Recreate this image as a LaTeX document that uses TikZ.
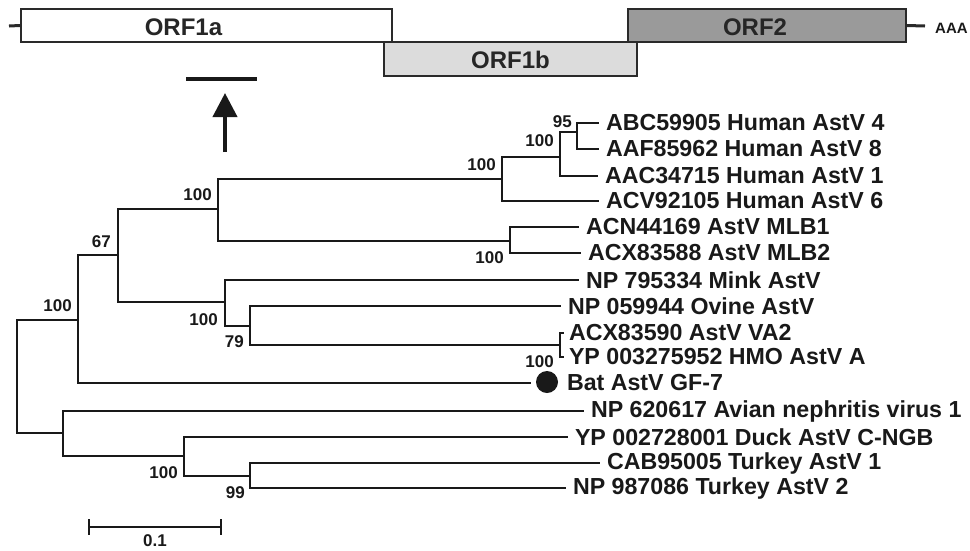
\documentclass[tikz,border=0pt]{standalone}
\usepackage{fontspec}
\setmainfont{Liberation Sans}
\usetikzlibrary{arrows.meta}
\definecolor{boxline}{HTML}{2A2A2A}
\definecolor{orfa}{HTML}{FFFFFF}
\definecolor{orfb}{HTML}{DCDCDC}
\definecolor{orfc}{HTML}{9A9A9A}
\tikzset{
  branch/.style={line width=1.6pt, line cap=rect, black!90},
  leaf/.style={anchor=west, inner xsep=8pt, inner ysep=0pt, outer sep=0pt,
    font=\fontsize{23.2}{26}\selectfont\bfseries, text=black!90},
  boot/.style={anchor=east, inner sep=0pt, font=\fontsize{17}{20}\selectfont\bfseries, text=black!90},
  genebox/.style={draw=boxline, line width=1.8pt, inner sep=0pt},
  genelabel/.style={inner sep=0pt, font=\fontsize{24}{28}\selectfont\bfseries, text=black!85},
  thickline/.style={line width=3pt, boxline},
}
\begin{document}
\begin{tikzpicture}[x=1pt,y=-1pt]
\useasboundingbox (0,0) rectangle (970,550);
% ---------------- genome map ----------------
\coordinate (gl1) at (9,26);
\node[genebox, fill=orfa, minimum width=371pt, minimum height=33pt] (orf1a) at (206.5,25.5) {};
\node[genebox, fill=orfb, minimum width=253pt, minimum height=34pt] (orf1b) at (510.5,59) {};
\node[genebox, fill=orfc, minimum width=278pt, minimum height=33pt] (orf2) at (767,25.5) {};
\node[genelabel] (t1a) at (183.5,27) {ORF1a};
\node[genelabel] (t1b) at (510.5,60) {ORF1b};
\node[genelabel] (t2) at (755,27) {ORF2};
\draw[thickline] (gl1) -- (orf1a.west);
\coordinate (gr1) at (925,26);
\draw[thickline] (orf2.east) -- (gr1);
\node[anchor=west, inner sep=0pt, font=\fontsize{15}{18}\selectfont\bfseries, text=black!90] (aaa) at (935,28) {AAA};
% region bar and arrow
\coordinate (bar1) at (186,79);
\coordinate (bar2) at (257,79);
\draw[line width=4pt, black!90] (bar1) -- (bar2);
\coordinate (arr1) at (225,152);
\coordinate (arr2) at (225,93);
\draw[line width=4pt, black!90, -{Triangle[width=24pt,length=24pt]}] (arr1) -- (arr2);
% ---------------- tree ----------------
\coordinate (R) at (17,320);
\coordinate (A) at (78,320);
\coordinate (B) at (118,255);
\coordinate (C) at (218,209);
\coordinate (D) at (502,179);
\coordinate (E) at (560,157);
\coordinate (F) at (577,132);
\coordinate (G) at (510,241);
\coordinate (H) at (225,302);
\coordinate (I) at (250,326);
\coordinate (J) at (560,345);
\coordinate (K) at (63,433);
\coordinate (L) at (184,456);
\coordinate (M) at (250,476);
\coordinate (batend) at (530,383);
% leaves
\node[leaf] (abc) at (598,123) {ABC59905 Human AstV 4};
\node[leaf] (aaf) at (598,149) {AAF85962 Human AstV 8};
\node[leaf] (aac) at (597,176) {AAC34715 Human AstV 1};
\node[leaf] (acv) at (598,201) {ACV92105 Human AstV 6};
\node[leaf] (acn) at (578,227) {ACN44169 AstV MLB1};
\node[leaf] (acx88) at (580,253) {ACX83588 AstV MLB2};
\node[leaf] (np795) at (578,280) {NP 795334 Mink AstV};
\node[leaf] (np059) at (560,306) {NP 059944 Ovine AstV};
\node[leaf, inner xsep=6pt] (acx90) at (563,333) {ACX83590 AstV VA2};
\node[leaf, inner xsep=6pt] (yp003) at (563,357) {YP 003275952 HMO AstV A};
\node[circle, fill=black!90, minimum size=22pt, inner sep=0pt] (batdot) at (547,382) {};
\node[leaf, inner xsep=0pt] (bat) at (567,383) {Bat AstV GF-7};
\node[leaf] (np620) at (583,411) {NP 620617 Avian nephritis virus 1};
\node[leaf] (yp0027) at (567,437) {YP 002728001 Duck AstV C-NGB};
\node[leaf] (cab) at (599,463) {CAB95005 Turkey AstV 1};
\node[leaf] (np987) at (565,488) {NP 987086 Turkey AstV 2};
% branches
\draw[branch] (R) |- (A);
\draw[branch] (R) |- (K);
\draw[branch] (A) |- (B);
\draw[branch] (A) |- (batend);
\draw[branch] (B) |- (C);
\draw[branch] (B) |- (H);
\draw[branch] (C) |- (D);
\draw[branch] (C) |- (G);
\draw[branch] (D) |- (E);
\draw[branch] (D) |- (acv.west);
\draw[branch] (E) |- (F);
\draw[branch] (E) |- (aac.west);
\draw[branch] (F) |- (abc.west);
\draw[branch] (F) |- (aaf.west);
\draw[branch] (G) |- (acn.west);
\draw[branch] (G) |- (acx88.west);
\draw[branch] (H) |- (np795.west);
\draw[branch] (H) |- (I);
\draw[branch] (I) |- (np059.west);
\draw[branch] (I) |- (J);
\draw[branch] (J) |- (acx90.west);
\draw[branch] (J) |- (yp003.west);
\draw[branch] (K) |- (np620.west);
\draw[branch] (K) |- (L);
\draw[branch] (L) |- (yp0027.west);
\draw[branch] (L) |- (M);
\draw[branch] (M) |- (cab.west);
\draw[branch] (M) |- (np987.west);
% bootstrap values
\node[boot] (bsR) at (72,306) {100};
\node[boot] (bsB) at (111,242) {67};
\node[boot] (bsC) at (212,195) {100};
\node[boot] (bsD) at (496,165) {100};
\node[boot] (bsE) at (554,141) {100};
\node[boot] (bsF) at (572,122) {95};
\node[boot] (bsG) at (504,258) {100};
\node[boot] (bsH) at (218,320) {100};
\node[boot] (bsI) at (244,342) {79};
\node[boot] (bsJ) at (554,362) {100};
\node[boot] (bsL) at (178,473) {100};
\node[boot] (bsM) at (245,493) {99};
% scale bar
\coordinate (sb1) at (89,527);
\coordinate (sb2) at (221,527);
\draw[branch] (sb1) -- (sb2);
\draw[branch] ([yshift=-7pt]sb1) -- ([yshift=7pt]sb1);
\draw[branch] ([yshift=-7pt]sb2) -- ([yshift=7pt]sb2);
\node[inner sep=0pt, font=\fontsize{17}{20}\selectfont\bfseries, text=black!90] (sbl) at (155,541) {0.1};
\end{tikzpicture}
\end{document}
